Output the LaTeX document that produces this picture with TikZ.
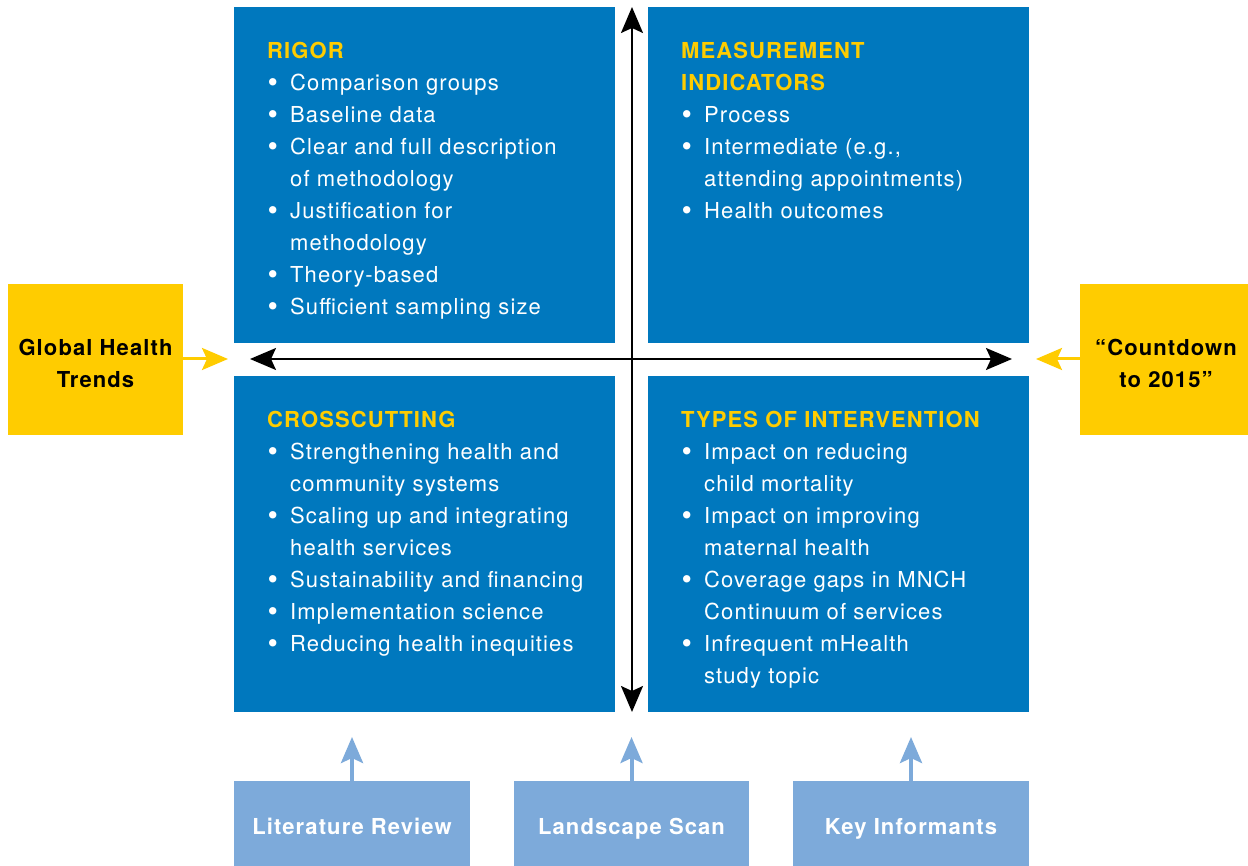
\documentclass[tikz,border=0pt]{standalone}
\usepackage{fontspec}
\setmainfont{TeX Gyre Heros}[LetterSpace=5]
\usepackage{tikz}
\usetikzlibrary{
    arrows.meta,
    positioning,
    calc
}
\usepackage{xcolor}
\definecolor{quadblue}{RGB}{0,120,190}
\definecolor{trendyellow}{RGB}{255,204,0}
\definecolor{sourceblue}{RGB}{125,170,218}

% bullet line with hanging indent
\newcommand{\bitem}[1]{\par\hangindent=23pt\hangafter=1\noindent\makebox[23pt][l]{\hspace{0.5pt}\raisebox{-2pt}{\scalebox{1.35}{\textbullet}}}#1}
\newcommand{\qtitle}[1]{{\color{trendyellow}\bfseries #1}}

\begin{document}
\begin{tikzpicture}[
    x=1pt, y=-1pt,
    quad/.style={
        rectangle, fill=quadblue, inner sep=0pt,
        minimum width=381pt, minimum height=336pt, anchor=north west
    },
    qtext/.style={
        anchor=north west, inner sep=0pt, text width=350pt, align=left,
        text=white, font=\fontsize{22}{32}\selectfont
    },
    trend/.style={
        rectangle, fill=trendyellow, inner sep=0pt, minimum height=151pt
    },
    trendtext/.style={
        inner sep=0pt, align=center,
        font=\fontsize{22}{32}\selectfont\bfseries
    },
    source/.style={
        rectangle, fill=sourceblue, inner sep=0pt,
        minimum width=236pt, minimum height=85pt,
        text height=21pt, text depth=0pt,
        text=white, font=\fontsize{22}{26}\selectfont\bfseries
    },
    axis/.style={{Stealth[length=26pt, width=22pt, inset=5pt]}-{Stealth[length=26pt, width=22pt, inset=5pt]}, line width=2pt},
    arrow/.style={-{Stealth[length=26pt, width=22pt, inset=5pt]}, line width=3pt}
]
\useasboundingbox (0,0) rectangle (1248,866);

% Quadrants
\node[quad] (rigor) at (234,7) {};
\node[quad] (measure) at (648,7) {};
\node[quad] (cross) at (234,376) {};
\node[quad] (types) at (648,376) {};

\node[qtext] (rigortxt) at ($(rigor.north west)+(33,35)$) {%
\qtitle{RIGOR}
\bitem{Comparison groups}
\bitem{Baseline data}
\bitem{Clear and full description\newline of methodology}
\bitem{Justification for\newline methodology}
\bitem{Theory-based}
\bitem{Sufficient sampling size}\par};

\node[qtext] (measuretxt) at ($(measure.north west)+(33,35)$) {%
\qtitle{MEASUREMENT\newline INDICATORS}
\bitem{Process}
\bitem{Intermediate (e.g.,\newline attending appointments)}
\bitem{Health outcomes}\par};

\node[qtext] (crosstxt) at ($(cross.north west)+(33,35)$) {%
\qtitle{CROSSCUTTING}
\bitem{Strengthening health and\newline community systems}
\bitem{Scaling up and integrating\newline health services}
\bitem{Sustainability and financing}
\bitem{Implementation science}
\bitem{Reducing health inequities}\par};

\node[qtext] (typestxt) at ($(types.north west)+(33,35)$) {%
\qtitle{TYPES OF INTERVENTION}
\bitem{Impact on reducing\newline child mortality}
\bitem{Impact on improving\newline maternal health}
\bitem{Coverage gaps in MNCH\newline Continuum of services}
\bitem{Infrequent mHealth\newline study topic}\par};

% Axes
\coordinate (axleft) at (250,359);
\coordinate (axright) at (1012,359);
\coordinate (axtop) at (632,7);
\coordinate (axbottom) at (632,712);
\draw[axis] (axleft) -- (axright);
\draw[axis] (axtop) -- (axbottom);

% Trends (left and right)
\node[trend, minimum width=175pt] (global) at (95.5,359.5) {};
\node[trend, minimum width=168pt] (countdown) at (1164,359.5) {};
\node[trendtext] (globaltxt) at ($(global.center)+(0,3.5)$) {Global Health\\Trends};
\node[trendtext] (countdowntxt) at ($(countdown.center)+(2,3.5)$) {``Countdown\\to 2015''};
\coordinate (globalend) at (228,359);
\coordinate (countdownend) at (1036,359);
\draw[arrow, trendyellow] (global.east |- globalend) -- (globalend);
\draw[arrow, trendyellow] (countdown.west |- countdownend) -- (countdownend);

% Sources
\node[source] (lit) at (352,823.5) {Literature Review};
\node[source, minimum width=235pt] (land) at (631.5,823.5) {Landscape Scan};
\node[source] (key) at (911,823.5) {Key Informants};
\coordinate (litend) at (352,737);
\coordinate (landend) at (631.5,737);
\coordinate (keyend) at (911,737);
\draw[arrow, sourceblue, line width=4pt] (lit.north) -- (litend);
\draw[arrow, sourceblue, line width=4pt] (land.north) -- (landend);
\draw[arrow, sourceblue, line width=4pt] (key.north) -- (keyend);

\end{tikzpicture}
\end{document}
